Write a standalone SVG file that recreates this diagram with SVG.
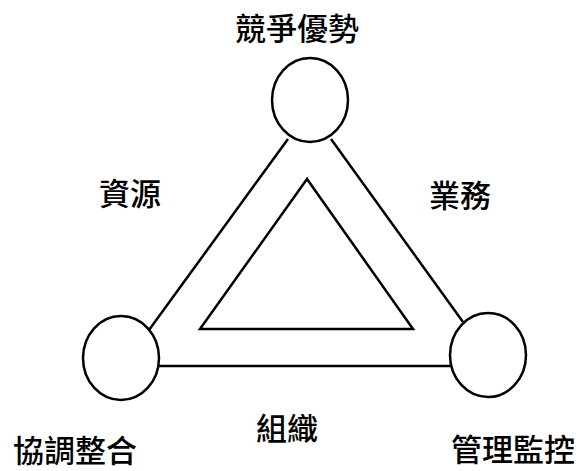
<svg xmlns="http://www.w3.org/2000/svg" width="578" height="471" viewBox="0 0 578 471">
<style>
.n{fill:#fff;stroke:#000;stroke-width:2.5}
.c{fill:none;stroke:#000;stroke-width:2.5}
.t{font-family:"Noto Sans CJK TC","Noto Sans CJK SC",sans-serif;font-size:31px;font-weight:500;fill:#000;text-anchor:middle}
</style>
<rect width="578" height="471" fill="#fff"/>
<g id="connectors">
<line class="c" x1="288" y1="139" x2="149" y2="330"/>
<line class="c" x1="331" y1="139" x2="463" y2="322"/>
<line class="c" x1="159" y1="366" x2="451" y2="366"/>
<polygon id="inner" class="c" points="307,179 200,329 413,329"/>
</g>
<g id="top"><ellipse class="n" cx="310" cy="100" rx="38" ry="42"/><text class="t" x="297" y="40">競爭優勢</text></g>
<g id="left"><ellipse class="n" cx="121" cy="358" rx="38" ry="42"/><text class="t" x="75" y="462">協調整合</text></g>
<g id="right"><ellipse class="n" cx="488" cy="355" rx="38" ry="42"/><text class="t" x="513" y="461">管理監控</text></g>
<g id="labels">
<text class="t" x="130" y="205">資源</text>
<text class="t" x="460" y="207">業務</text>
<text class="t" x="287" y="440">組織</text>
</g>
</svg>
